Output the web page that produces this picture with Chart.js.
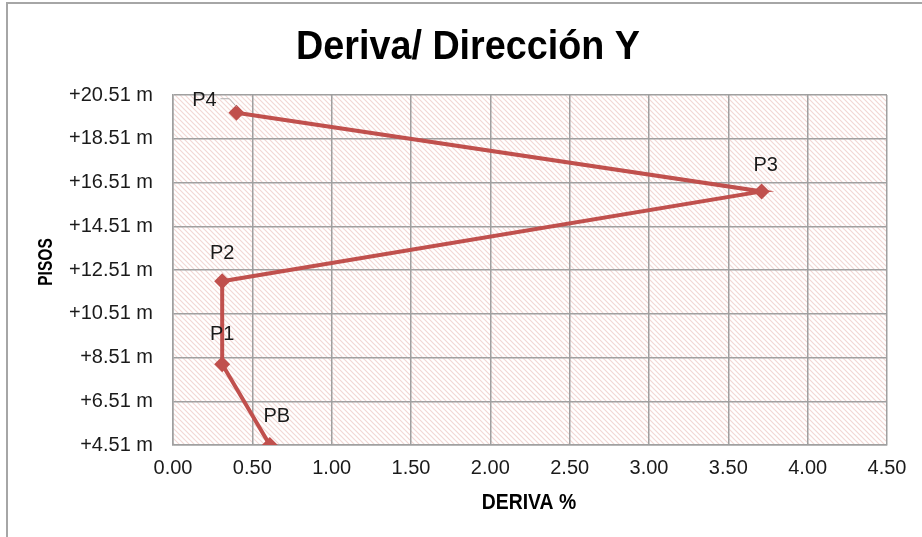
<!DOCTYPE html>
<html>
<head>
<meta charset="utf-8">
<script src="https://cdn.jsdelivr.net/npm/chart.js@4.4.1/dist/chart.umd.min.js"></script>
<style>
    html, body { margin: 0; padding: 0; background: #fff; }
    #wrap { position: relative; width: 922px; height: 537px; overflow: hidden; }
    #frame {
        position: absolute; left: 6px; top: 2px; width: 1000px; height: 600px;
        border-left: 2px solid #a6a6a6; border-top: 2px solid #a6a6a6;
        pointer-events: none;
    }
    #chart { position: absolute; left: 0; top: 0; }
</style>
</head>
<body>
<div id="wrap">
    <canvas id="chart" width="922" height="537"></canvas>
    <div id="frame"></div>
</div>
<script>
/* =========================
   DATA
========================= */
const pisos = ['PB', 'P1', 'P2', 'P3', 'P4'];
const deriva = [0.61, 0.31, 0.31, 3.71, 0.40];   // %
const altura = [4.51, 8.20, 12.00, 16.10, 19.70]; // m

const xTicks = [0, 0.5, 1, 1.5, 2, 2.5, 3, 3.5, 4, 4.5];
const yTicks = [4.51, 6.51, 8.51, 10.51, 12.51, 14.51, 16.51, 18.51, 20.51];

const chartTitle = 'Deriva/ Dirección Y';
const xTitle = 'DERIVA %';
const yTitle = 'PISOS';

const FONT = '"Liberation Sans", Arial, sans-serif';

/* =========================
   HATCH PATTERN
========================= */
function makeHatch() {
    const c = document.createElement('canvas');
    c.width = 5;
    c.height = 5;
    const g = c.getContext('2d');
    g.fillStyle = '#fff';
    g.fillRect(0, 0, 5, 5);
    g.strokeStyle = '#f2d8d5';
    g.lineWidth = 1.2;
    g.beginPath();
    g.moveTo(-1, -1); g.lineTo(6, 6);
    g.moveTo(-1, 4); g.lineTo(1, 6);
    g.moveTo(4, -1); g.lineTo(6, 1);
    g.stroke();
    return g.createPattern(c, 'repeat');
}

const hatchBackground = {
    id: 'hatchBackground',
    beforeDraw(chart) {
        const { ctx, chartArea: a } = chart;
        ctx.save();
        ctx.fillStyle = makeHatch();
        ctx.fillRect(a.left, a.top, a.right - a.left, a.bottom - a.top);
        ctx.restore();
    }
};

/* =========================
   TITLES (narrow, like Arial Narrow)
========================= */
function narrowText(ctx, text, x, y, font, squeeze, angle) {
    ctx.save();
    ctx.translate(x, y);
    if (angle) ctx.rotate(angle);
    ctx.scale(squeeze, 1);
    ctx.font = font;
    ctx.fillStyle = '#000';
    ctx.textAlign = 'center';
    ctx.textBaseline = 'middle';
    ctx.fillText(text, 0, 0);
    ctx.restore();
}

const titles = {
    id: 'titles',
    afterDraw(chart) {
        const { ctx, chartArea: a } = chart;
        narrowText(ctx, chartTitle, 468, 48, 'bold 41px ' + FONT, 0.92, 0);
        narrowText(ctx, xTitle, (a.left + a.right) / 2 - 1, 503, 'bold 22px ' + FONT, 0.88, 0);
        narrowText(ctx, yTitle, 46, 262, 'bold 21px ' + FONT, 0.74, -Math.PI / 2);
    }
};

/* =========================
   POINT LABELS
========================= */
const labelOffsets = {
    PB: [7, -29],
    P1: [0, -30],
    P2: [0, -28],
    P3: [4, -26],
    P4: [-32, -12]
};

const pointLabels = {
    id: 'pointLabels',
    afterDatasetsDraw(chart) {
        const { ctx } = chart;
        const meta = chart.getDatasetMeta(0);
        ctx.save();
        ctx.font = '20px ' + FONT;
        ctx.fillStyle = '#1a1a1a';
        ctx.textAlign = 'center';
        ctx.textBaseline = 'middle';
        meta.data.forEach((pt, i) => {
            const name = pisos[i];
            const off = labelOffsets[name];
            const lx = pt.x + off[0];
            const ly = pt.y + off[1];
            ctx.fillText(name, lx, ly);
            if (name === 'P4') {
                // small leader line
                ctx.strokeStyle = '#b0b0b0';
                ctx.lineWidth = 1;
                ctx.beginPath();
                ctx.moveTo(lx + 16, ly - 2);
                ctx.lineTo(lx + 25, ly - 2);
                ctx.lineTo(pt.x, pt.y - 6);
                ctx.stroke();
            }
        });
        ctx.restore();
    }
};

/* =========================
   CHART
========================= */
const lineRed = '#c0504d';
const gridGray = '#a0a0a0';

new Chart(document.getElementById('chart'), {
    type: 'scatter',
    data: {
        datasets: [{
            data: deriva.map((d, i) => ({ x: d, y: altura[i] })),
            showLine: true,
            borderColor: lineRed,
            backgroundColor: lineRed,
            borderWidth: 4,
            pointStyle: 'rectRot',
            pointRadius: 8,
            pointHoverRadius: 8,
            pointBorderWidth: 0
        }]
    },
    plugins: [hatchBackground, pointLabels, titles],
    options: {
        responsive: false,
        animation: false,
        events: [],
        layout: { padding: { top: 95, right: 35, bottom: 0, left: 0 } },
        plugins: {
            legend: { display: false },
            tooltip: { enabled: false },
            title: { display: false }
        },
        scales: {
            x: {
                type: 'linear',
                min: 0,
                max: 4.5,
                afterBuildTicks: axis => { axis.ticks = xTicks.map(v => ({ value: v })); },
                afterFit: axis => { axis.height = 92; },
                grid: { color: gridGray, lineWidth: 1.5, drawTicks: false },
                border: { color: gridGray, width: 1.5 },
                ticks: {
                    color: '#1a1a1a',
                    padding: 11,
                    maxRotation: 0,
                    font: { family: FONT, size: 20 },
                    callback: v => Number(v).toFixed(2)
                }
            },
            y: {
                type: 'linear',
                min: 4.51,
                max: 20.51,
                afterBuildTicks: axis => { axis.ticks = yTicks.map(v => ({ value: v })); },
                afterFit: axis => { axis.width = 173; },
                grid: { color: gridGray, lineWidth: 1.5, drawTicks: false },
                border: { color: gridGray, width: 1.5 },
                ticks: {
                    color: '#1a1a1a',
                    padding: 20,
                    font: { family: FONT, size: 20 },
                    callback: v => '+' + Number(v).toFixed(2) + ' m'
                }
            }
        }
    }
});
</script>
</body>
</html>
